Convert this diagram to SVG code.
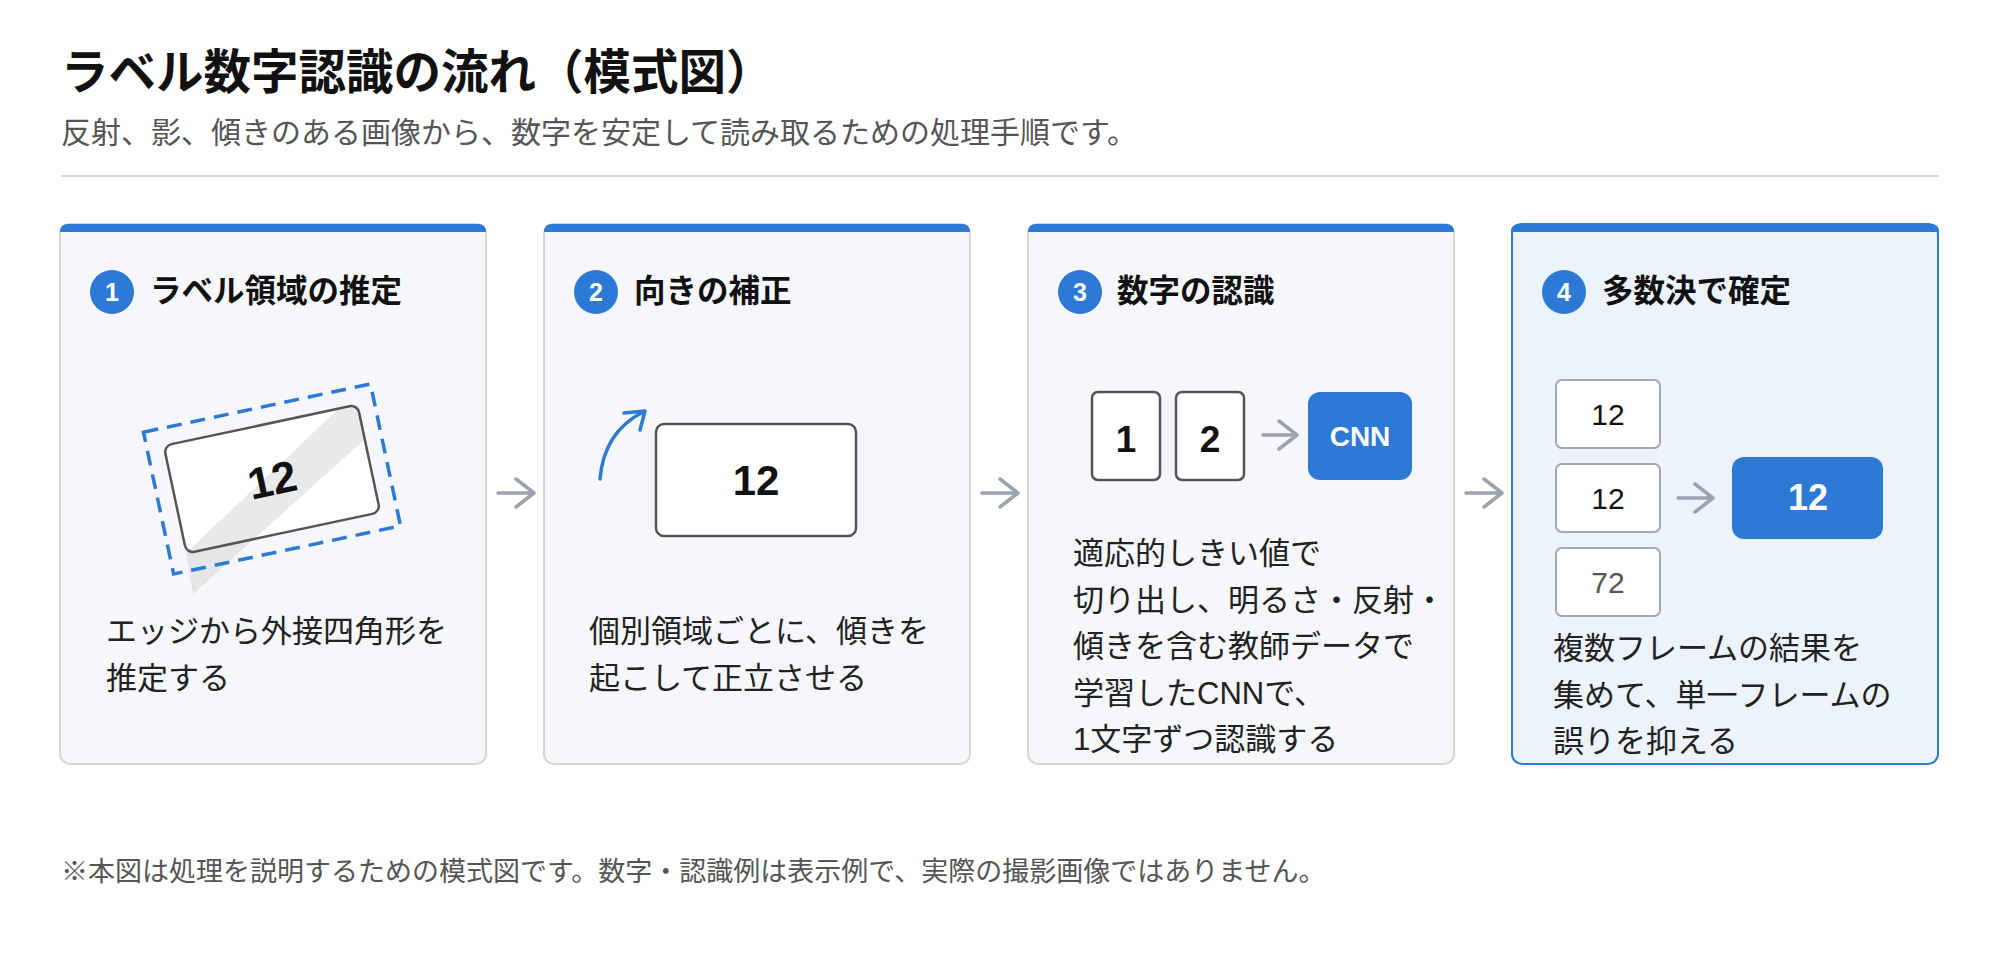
<svg xmlns="http://www.w3.org/2000/svg" width="2000" height="960" viewBox="0 0 2000 960">
<defs>
<style>
text{font-family:"Liberation Sans","Noto Sans CJK JP",sans-serif;}
.title{font-size:47.5px;font-weight:700;fill:#111;}
.sub{font-size:30px;fill:#555;}
.foot{font-size:27px;fill:#555;}
.card{fill:#f5f7fb;stroke:#d6d6d2;stroke-width:2;}
.card4{fill:#ecf3fc;stroke:#2d79d6;stroke-width:2;}
.bar{fill:#2d79d6;}
.num{fill:#2d79d6;}
.numt{font-size:25px;font-weight:700;fill:#fff;text-anchor:middle;}
.head{font-size:31.5px;font-weight:700;fill:#111;}
.desc{font-size:31px;fill:#222;}
.arrow{fill:none;stroke:#9aa3ae;stroke-width:3.5;stroke-linecap:round;stroke-linejoin:round;}
.box{fill:#fff;stroke:#555;stroke-width:2.5;}
.vbox{fill:#fff;stroke:#a3a9b1;stroke-width:2;}
.big{font-size:42px;font-weight:700;fill:#111;text-anchor:middle;}
.dig{font-size:37px;font-weight:700;fill:#111;text-anchor:middle;}
.blue{fill:#2d79d6;}
.wt{fill:#fff;font-weight:700;text-anchor:middle;}
.vt{font-size:30px;fill:#111;text-anchor:middle;}
</style>
</defs>
<rect width="2000" height="960" fill="#fff"/>
<g id="header">
<text class="title" x="61" y="89">ラベル数字認識の流れ（模式図）</text>
<text class="sub" x="61" y="143">反射、影、傾きのある画像から、数字を安定して読み取るための処理手順です。</text>
<line x1="61" y1="176" x2="1939" y2="176" stroke="#d9d9d6" stroke-width="2"/>
</g>

<g id="step1">
<rect class="card" x="60" y="224" width="426" height="540" rx="10"/>
<path class="bar" d="M60,232 Q60,224 68,224 H478 Q486,224 486,232 Z"/>
<circle class="num" cx="112" cy="292" r="22"/>
<text class="numt" x="112" y="301">1</text>
<text class="head" x="150" y="302">ラベル領域の推定</text>
<g transform="rotate(-12 272 479)">
<rect x="173" y="424" width="198" height="110" rx="8" fill="#fff"/>
</g>
<polygon points="336,411 359,406 364,440 193,594 186,553" fill="#d4d4d4" fill-opacity="0.5"/>
<g transform="rotate(-12 272 479)">
<rect x="173" y="424" width="198" height="110" rx="8" fill="none" stroke="#555" stroke-width="2.5"/>
<text class="big" x="272" y="495" font-size="44" style="font-size:44px">12</text>
<rect x="156" y="406.5" width="232" height="145" fill="none" stroke="#2d79d6" stroke-width="3.5" stroke-dasharray="15 9"/>
</g>
<text class="desc" x="106" y="642">エッジから外接四角形を</text>
<text class="desc" x="106" y="689">推定する</text>
</g>

<g id="step2">
<rect class="card" x="544" y="224" width="426" height="540" rx="10"/>
<path class="bar" d="M544,232 Q544,224 552,224 H962 Q970,224 970,232 Z"/>
<circle class="num" cx="596" cy="292" r="22"/>
<text class="numt" x="596" y="301">2</text>
<text class="head" x="634" y="302">向きの補正</text>
<path d="M600,479 Q604,432 643,412" fill="none" stroke="#2d79d6" stroke-width="3.5" stroke-linecap="round"/>
<path d="M624,413 L645,411 L640,430" fill="none" stroke="#2d79d6" stroke-width="3.5" stroke-linecap="round" stroke-linejoin="round"/>
<rect class="box" x="656" y="424" width="200" height="112" rx="8"/>
<text class="big" x="756" y="495">12</text>
<text class="desc" x="589" y="642">個別領域ごとに、傾きを</text>
<text class="desc" x="589" y="689">起こして正立させる</text>
</g>

<g id="step3">
<rect class="card" x="1028" y="224" width="426" height="540" rx="10"/>
<path class="bar" d="M1028,232 Q1028,224 1036,224 H1446 Q1454,224 1454,232 Z"/>
<circle class="num" cx="1080" cy="292" r="22"/>
<text class="numt" x="1080" y="301">3</text>
<text class="head" x="1117" y="302">数字の認識</text>
<rect class="box" x="1092" y="392" width="68" height="88" rx="6"/>
<text class="dig" x="1126" y="452">1</text>
<rect class="box" x="1176" y="392" width="68" height="88" rx="6"/>
<text class="dig" x="1210" y="452">2</text>
<rect class="blue" x="1308" y="392" width="104" height="88" rx="12"/>
<text class="wt" x="1360" y="446" font-size="28">CNN</text>
<text class="desc" x="1073" y="564">適応的しきい値で</text>
<text class="desc" x="1073" y="610.5">切り出し、明るさ・反射・</text>
<text class="desc" x="1073" y="657">傾きを含む教師データで</text>
<text class="desc" x="1073" y="703.5">学習したCNNで、</text>
<text class="desc" x="1073" y="750">1文字ずつ認識する</text>
</g>

<g id="step4">
<rect class="card4" x="1512" y="224" width="426" height="540" rx="10"/>
<path class="bar" d="M1511,232 Q1511,224 1519,224 H1931 Q1939,224 1939,232 Z"/>
<circle class="num" cx="1564" cy="292" r="22"/>
<text class="numt" x="1564" y="301">4</text>
<text class="head" x="1602" y="302">多数決で確定</text>
<rect class="vbox" x="1556" y="380" width="104" height="68" rx="6"/>
<text class="vt" x="1608" y="425">12</text>
<rect class="vbox" x="1556" y="464" width="104" height="68" rx="6"/>
<text class="vt" x="1608" y="509">12</text>
<rect class="vbox" x="1556" y="548" width="104" height="68" rx="6"/>
<text class="vt" x="1608" y="593" style="fill:#555">72</text>
<rect class="blue" x="1732" y="457" width="151" height="82" rx="12"/>
<text class="wt" x="1808" y="510" font-size="36">12</text>
<text class="desc" x="1553" y="659">複数フレームの結果を</text>
<text class="desc" x="1553" y="705.5">集めて、単一フレームの</text>
<text class="desc" x="1553" y="752">誤りを抑える</text>
</g>

<g id="connectors">
<path class="arrow" d="M498,493 H534 M516,479 L534,493 L516,507"/>
<path class="arrow" d="M982,493 H1018 M1000,479 L1018,493 L1000,507"/>
<path class="arrow" d="M1466,493 H1502 M1484,479 L1502,493 L1484,507"/>
<path class="arrow" d="M1263,435 H1297 M1279,421 L1297,435 L1279,449"/>
<path class="arrow" d="M1678,498 H1713 M1695,484 L1713,498 L1695,512"/>
</g>

<text class="foot" x="61" y="881">※本図は処理を説明するための模式図です。数字・認識例は表示例で、実際の撮影画像ではありません。</text>
</svg>
